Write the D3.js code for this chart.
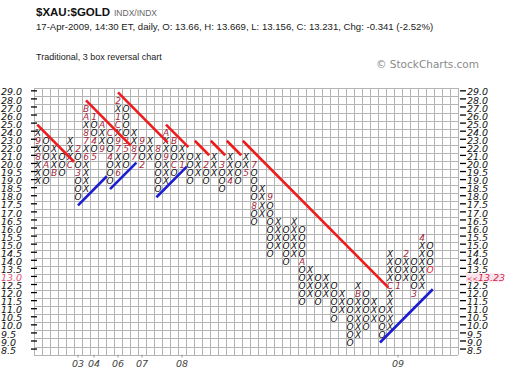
<!DOCTYPE html>
<html>
<head>
<meta charset="utf-8">
<script src="https://cdn.jsdelivr.net/npm/d3@7"></script>
<style>
  body { margin: 0; background: #fff; }
</style>
</head>
<body>
<div id="chart"></div>
<script>
// price rows, top to bottom (box size 1.0 above 20, 0.5 below)
const priceLabels = ["29.0","28.0","27.0","26.0","25.0","24.0","23.0","22.0","21.0","20.0",
  "19.5","19.0","18.5","18.0","17.5","17.0","16.5","16.0","15.5","15.0","14.5","14.0",
  "13.5","13.0","12.5","12.0","11.5","11.0","10.5","10.0","9.5","9.0","8.5"];

// each column: lowest and highest box (even columns are X, odd are O)
const colLow  = [19.0,19.0,19.5,19.5,20,18.0,18.5,21,22,19.0,19.5,20,21,20,21,18.5,19.0,19.5,20,19.0,
  19.5,19.0,19.5,18.5,19.0,19.0,19.5,16.5,17,14.5,15,14,14.5,11.5,12,11.5,12,10.5,11,9.0,
  9.5,10,10.5,9.5,10,12.5,13,12,12.5,13.5];
const colHigh = [24,23,22,21,23,22,27,26,25,24,28,27,24,23,23,22,24,23,22,21,
  21,20,21,20,21,20,21,20,18.5,18,16.5,16,16.5,16,13.5,13,13,12.5,12,11.5,
  12.5,12,11.5,11,14.5,14,14.5,14,15.5,15];

// month markers [column, price, label]
const monthMarks = [
  [0,21,"8"],[0,23,"9"],[1,20,"A"],[2,19.5,"B"],[4,20,"C"],[5,22,"2"],[5,19.5,"3"],
  [6,21,"6"],[6,23,"7"],[6,24,"8"],[6,26,"A"],[6,27,"B"],[7,26,"1"],[7,23,"4"],[7,21,"5"],
  [8,22,"9"],[8,25,"A"],[9,24,"C"],[9,21,"4"],[10,19.5,"6"],[10,22,"7"],[10,23,"9"],
  [10,25,"C"],[10,26,"1"],[10,28,"2"],[11,23,"3"],[11,22,"5"],[12,21,"7"],[12,22,"8"],
  [13,23,"9"],[13,20,"2"],[15,22,"8"],[16,21,"9"],[16,24,"A"],[17,23,"B"],[17,20,"C"],
  [18,20,"1"],[21,20,"2"],[23,20,"3"],[24,19,"4"],[26,19.5,"5"],[27,20,"7"],[27,17.5,"8"],
  [29,18,"9"],[33,14,"A"],[40,12,"B"],[44,12.5,"C"],[45,12.5,"1"],[46,14.5,"2"],
  [47,12,"3"],[48,15.5,"4"]
];

const lastBox = [49, 13.5];
const lastPrice = "13.23";
const lastRowLabel = "13.0";

const yearLabels = [[5,"03"],[7,"04"],[10,"06"],[13,"07"],[18,"08"],[45,"09"]];

// trend lines [start column, start price, length in columns]
const resistLines = [[0.4,25,4.6],[6.5,28,5.6],[10.5,29,6.2],[16.5,25,2.8],
  [20.1,23,1.8],[22.1,23,1.8],[24.1,23,1.8],[26.1,23,18.2]];
const supportLines = [[5.5,17.5,3.6],[9.5,18.5,3.3],[15.3,18.0,3.8],[43.25,9.0,6.6]];

const width = 520, height = 378;
const nCols = 53;
const markColor = "#a3283c";

const svg = d3.select("#chart").append("svg")
  .attr("width", width).attr("height", height)
  .style("font-family", "'DejaVu Sans', Verdana, sans-serif");

svg.append("rect").attr("width", width).attr("height", height).attr("fill", "#fff");

// header
svg.append("text").attr("x", 36).attr("y", 16)
  .style("font-family", "'Liberation Sans', Arial, sans-serif")
  .style("font-weight", "bold").style("font-size", "11.5px").attr("fill", "#111")
  .text("$XAU:$GOLD");
svg.append("text").attr("x", 114).attr("y", 16)
  .style("font-family", "'Liberation Sans', Arial, sans-serif")
  .style("font-size", "8.5px").attr("fill", "#666")
  .text("INDX/INDX");
svg.append("text").attr("x", 36).attr("y", 30)
  .style("font-family", "'Liberation Sans', Arial, sans-serif")
  .style("font-size", "9.6px").attr("fill", "#222")
  .text("17-Apr-2009, 14:30 ET, daily, O: 13.66, H: 13.669, L: 13.156, C: 13.231, Chg: -0.341 (-2.52%)");
svg.append("text").attr("x", 36).attr("y", 60)
  .style("font-family", "'Liberation Sans', Arial, sans-serif")
  .style("font-size", "9px").attr("fill", "#222")
  .text("Traditional, 3 box reversal chart");
svg.append("text").attr("x", 376).attr("y", 68)
  .style("font-size", "10.5px").attr("fill", "#8a8a8a")
  .text("\u00a9 StockCharts.com");

// scales
const x = d3.scaleLinear().domain([0, nCols]).range([34, 458]);
const y = d3.scaleLinear().domain([-0.5, priceLabels.length - 0.5]).range([88.3, 354.6]);
const rowOf = p => priceLabels.indexOf((+p).toFixed(1));

// grid
const grid = svg.append("g").attr("stroke", "#b4b4b4").attr("stroke-width", 1)
  .attr("shape-rendering", "crispEdges");
grid.selectAll(".v").data(d3.range(nCols + 1)).enter().append("line")
  .attr("x1", d => Math.round(x(d)) + 0.5).attr("x2", d => Math.round(x(d)) + 0.5)
  .attr("y1", y(-0.5)).attr("y2", y(priceLabels.length - 0.5));
grid.selectAll(".h").data(d3.range(priceLabels.length + 1)).enter().append("line")
  .attr("y1", d => Math.round(y(d - 0.5)) + 0.5).attr("y2", d => Math.round(y(d - 0.5)) + 0.5)
  .attr("x1", x(0)).attr("x2", x(nCols));

// price axes
const axisG = svg.append("g").style("font-size", "9.5px").style("font-style", "italic");
priceLabels.forEach((p, i) => {
  const yy = y(i) - 1.5;
  axisG.append("line").attr("x1", 31).attr("x2", 37).attr("y1", yy).attr("y2", yy)
    .attr("stroke", "#000").attr("stroke-width", 1.3);
  axisG.append("text").attr("x", 1).attr("y", y(i)).attr("dy", "0.33em")
    .attr("fill", p === lastRowLabel ? "#e0507a" : "#111").text(p);
  axisG.append("line").attr("x1", 460).attr("x2", 466).attr("y1", yy).attr("y2", yy)
    .attr("stroke", "#000").attr("stroke-width", 1.3);
  if (p === lastRowLabel) {
    axisG.append("rect").attr("x", 466).attr("y", y(i) - 4.5).attr("width", 36).attr("height", 9)
      .attr("fill", "#fde4ec");
    const t = axisG.append("text").attr("x", 467).attr("y", y(i)).attr("dy", "0.33em")
      .attr("fill", "#d0284a");
    t.append("tspan").style("font-size", "6.5px").text("<<");
    t.append("tspan").text(lastPrice);
  } else {
    axisG.append("text").attr("x", 467).attr("y", y(i)).attr("dy", "0.33em")
      .attr("fill", "#111").text(p);
  }
});

// year labels
const yearG = svg.append("g");
yearLabels.forEach(([c, t]) => {
  const cx = x(c + 0.5);
  yearG.append("line").attr("x1", cx).attr("x2", cx).attr("y1", y(priceLabels.length - 0.5))
    .attr("y2", y(priceLabels.length - 0.5) + 3).attr("stroke", "#999");
  yearG.append("text").attr("x", cx).attr("y", 367).attr("text-anchor", "middle")
    .style("font-size", "9.5px").style("font-style", "italic").attr("fill", "#444").text(t);
});

// boxes
const markMap = new Map(monthMarks.map(([c, p, t]) => [c + "_" + rowOf(p), t]));
const boxes = [];
colLow.forEach((lo, c) => {
  for (let r = rowOf(colHigh[c]); r <= rowOf(lo); r++) {
    const key = c + "_" + r;
    const isLast = c === lastBox[0] && r === rowOf(lastBox[1]);
    let label = c % 2 === 0 ? "X" : "O", fill = "#111";
    if (markMap.has(key)) { label = markMap.get(key); fill = markColor; }
    if (isLast) fill = "#e8202a";
    boxes.push({ c, r, label, fill });
  }
});

svg.append("g").style("font-size", "9px").style("font-style", "italic")
  .selectAll("text").data(boxes).enter().append("text")
  .attr("x", d => x(d.c + 0.5)).attr("y", d => y(d.r)).attr("dy", "0.36em")
  .attr("text-anchor", "middle").attr("fill", d => d.fill).text(d => d.label);

// trend lines
const lineG = svg.append("g").attr("stroke-width", 2.6).attr("stroke-linecap", "butt");
resistLines.forEach(([c, p, n]) => {
  const r = rowOf(p);
  lineG.append("line").attr("x1", x(c)).attr("y1", y(r)).attr("x2", x(c + n)).attr("y2", y(r + n))
    .attr("stroke", "#ee1c1c");
});
supportLines.forEach(([c, p, n]) => {
  const r = rowOf(p);
  lineG.append("line").attr("x1", x(c)).attr("y1", y(r)).attr("x2", x(c + n)).attr("y2", y(r - n))
    .attr("stroke", "#1c1cd0");
});
</script>
</body>
</html>
